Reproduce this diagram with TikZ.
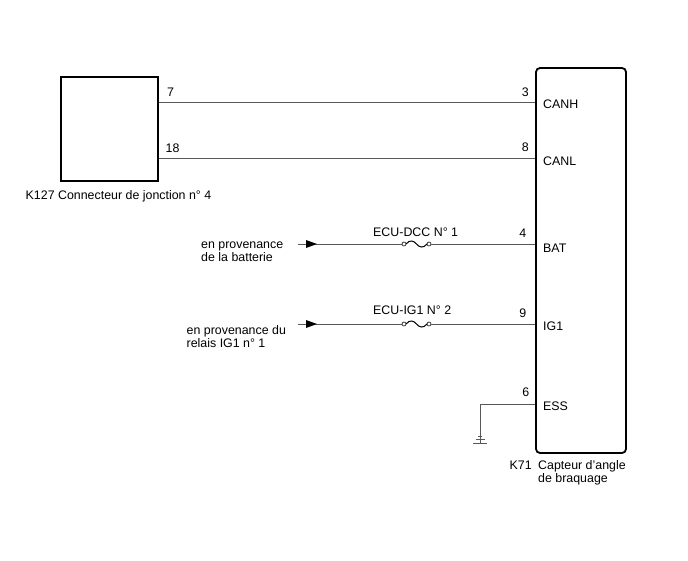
\documentclass[tikz,border=0pt]{standalone}
\usepackage{fontspec}
\setmainfont{Liberation Sans}
\begin{document}
\begin{tikzpicture}[x=1pt,y=-1pt,
  box/.style={draw=black,line width=1.8pt,inner sep=0pt},
  wire/.style={draw=black!65,line width=0.9pt},
  lbl/.style={font=\fontsize{12.4}{14}\selectfont,inner sep=0pt},
  pinno/.style={lbl,anchor=base east},
  pinname/.style={lbl,anchor=base west},
  txt/.style={lbl,anchor=base west}]
\useasboundingbox (0,0) rectangle (688,560);
% boxes
\node[box,minimum width=97pt,minimum height=104pt] (k127) at (109.5,129) {};
\node[box,rounded corners=4pt,minimum width=90pt,minimum height=385pt] (k71) at (581,260.5) {};
\node[txt] (k127lbl) at (25.5,199.5) {K127 Connecteur de jonction n\textdegree\ 4};
\node[txt] (k71lbl1) at (538,469) {Capteur d'angle};
\node[txt] (k71lbl2) at (538,482) {de braquage};
\node[txt] (k71id) at (509.5,469) {K71};
% pin coordinates
\coordinate (p7) at (k127.east |- 0,102);
\coordinate (p18) at (k127.east |- 0,158.5);
\coordinate (p3) at (k71.west |- 0,102);
\coordinate (p8) at (k71.west |- 0,158.5);
\coordinate (p4) at (k71.west |- 0,244);
\coordinate (p9) at (k71.west |- 0,324);
\coordinate (p6) at (k71.west |- 0,404);
% CAN wires
\draw[wire] (p7) -- (p3);
\draw[wire] (p18) -- (p8);
\node[txt] at (167,96) {7};
\node[txt] at (165.5,152) {18};
\node[pinno] at (529,96) {3};
\node[pinno] at (529,151.5) {8};
\node[pinno] at (526.5,237.5) {4};
\node[pinno] at (526.5,317.5) {9};
\node[pinno] at (529.5,396.5) {6};
\node[pinname] at (543,108) {CANH};
\node[pinname] at (543,165) {CANL};
\node[pinname] at (543,252) {BAT};
\node[pinname] at (543,330) {IG1};
\node[pinname] at (543,410.5) {ESS};
% supply wires
\foreach \yy/\nm/\fz in {244/bat/ECU-DCC N\textdegree\ 1,324/ig/ECU-IG1 N\textdegree\ 2}{
  \coordinate (\nm s) at (298,\yy);
  \coordinate (\nm a) at (404,\yy);
  \coordinate (\nm b) at (429,\yy);
  \draw[wire] (\nm s) -- ([xshift=-2pt]\nm a);
  \fill[black] (306,\yy-4) -- (317,\yy) -- (306,\yy+4) -- cycle;
  \draw[black!75,line width=0.8pt] (\nm a) circle (2pt);
  \draw[black!75,line width=0.8pt] (\nm b) circle (2pt);
  \draw[black,line width=1pt] ([xshift=2pt]\nm a) .. controls (410,\yy-5) and (414,\yy-3) .. (416.5,\yy) .. controls (419,\yy+3) and (423,\yy+5) .. ([xshift=-2pt]\nm b);
  \draw[wire] ([xshift=2pt]\nm b) -- (k71.west |- \nm s);
}
\node[txt] (fz1) at (373,236) {ECU-DCC N\textdegree\ 1};
\node[txt] (fz2) at (373,314) {ECU-IG1 N\textdegree\ 2};
\node[txt] (srcbat1) at (201,248) {en provenance};
\node[txt] (srcbat2) at (201,261) {de la batterie};
\node[txt] (srcig1) at (186.5,334.5) {en provenance du};
\node[txt] (srcig2) at (186.5,347.5) {relais IG1 n\textdegree\ 1};
% ground
\coordinate (g) at (480,443);
\draw[wire] (p6) -- (g |- p6) -- (g);
\draw[wire] ([xshift=-7pt]g) -- ([xshift=7pt]g);
\draw[wire] ([xshift=-4.5pt,yshift=3.5pt]g) -- ([xshift=4.5pt,yshift=3.5pt]g);
\draw[wire] ([xshift=-2pt,yshift=7pt]g) -- ([xshift=2pt,yshift=7pt]g);
\end{tikzpicture}
\end{document}
